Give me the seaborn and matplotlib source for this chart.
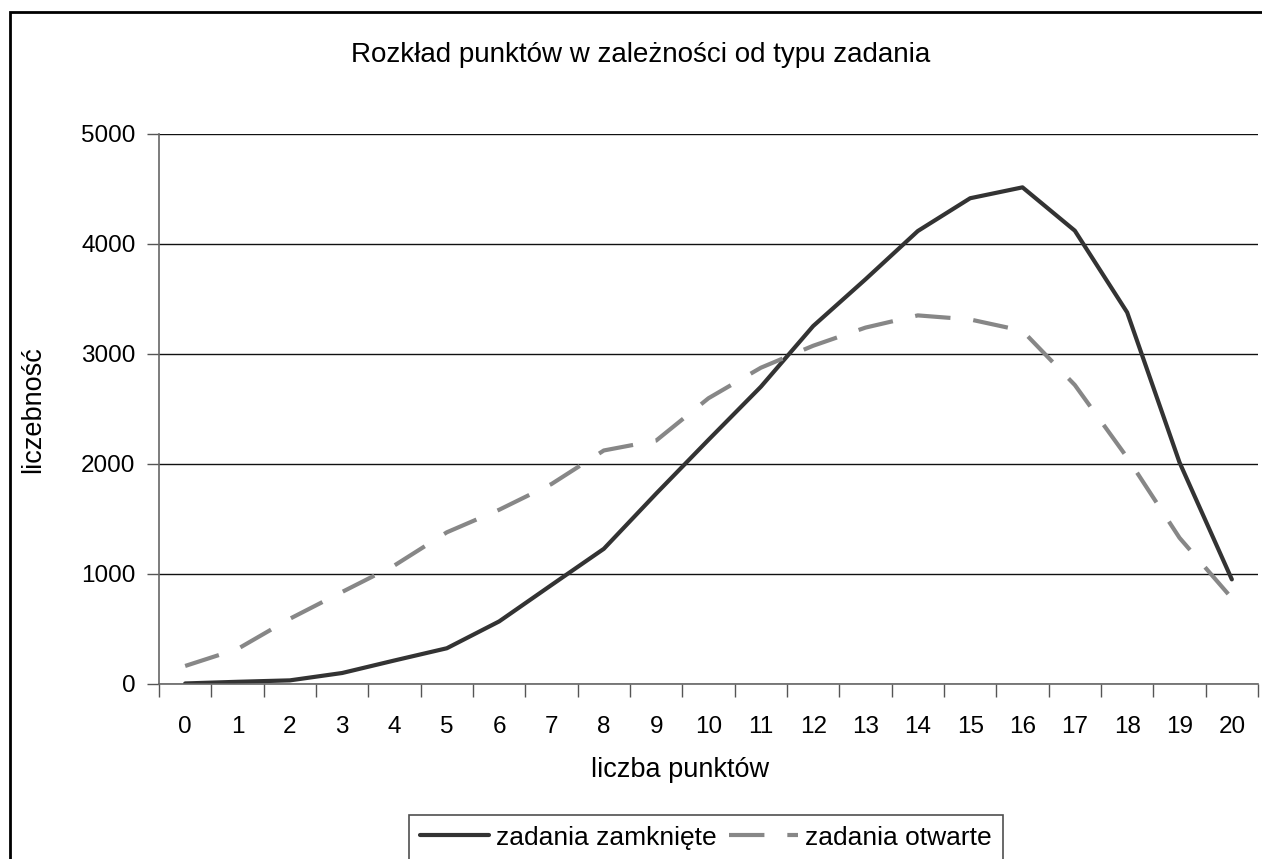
import matplotlib
matplotlib.use("Agg")
import matplotlib.pyplot as plt
import seaborn as sns
import pandas as pd
from matplotlib.patches import Rectangle
from matplotlib.lines import Line2D

points = list(range(21))
closed_tasks = [5, 20, 33, 100, 214, 325, 569, 900, 1229, 1731, 2220, 2702, 3254, 3679, 4118, 4416, 4515, 4121, 3378, 2015, 951]
open_tasks = [164, 318, 593, 837, 1078, 1379, 1584, 1818, 2123, 2213, 2598, 2875, 3075, 3240, 3351, 3314, 3211, 2718, 2059, 1329, 780]
series_names = ["zadania zamknięte", "zadania otwarte"]
title = "Rozkład punktów w zależności od typu zadania"
xlabel = "liczba punktów"
ylabel = "liczebność"
yticks = [0, 1000, 2000, 3000, 4000, 5000]

df = pd.concat([
    pd.DataFrame({"x": points, "y": closed_tasks, "series": series_names[0]}),
    pd.DataFrame({"x": points, "y": open_tasks, "series": series_names[1]}),
])

sns.set_theme(style="white")
plt.rcParams["font.family"] = ["Liberation Sans", "DejaVu Sans"]
plt.rcParams["text.color"] = "black"
plt.rcParams["axes.labelcolor"] = "black"
plt.rcParams["xtick.color"] = "black"
plt.rcParams["ytick.color"] = "black"

W, H = 1262, 859
fig = plt.figure(figsize=(W / 100, H / 100), dpi=100)
ax = fig.add_axes([159 / W, 1 - 684 / H, (1258 - 159) / W, (684 - 134) / H])

sns.lineplot(data=df, x="x", y="y", hue="series", style="series",
             palette={series_names[0]: "#333333", series_names[1]: "#878787"},
             dashes={series_names[0]: "", series_names[1]: (8.5, 5.5)},
             linewidth=3, ax=ax, legend=False)
for ln in ax.get_lines():
    ln.set_solid_capstyle("round")
    ln.set_dash_capstyle("butt")

ax.set_xlim(-0.5, 20.5)
ax.set_ylim(0, 5000)
ax.set_xticks(points)
ax.set_xticklabels([str(p) for p in points], fontsize=17.5)
ax.set_xticks([p - 0.5 for p in points] + [20.5], minor=True)
ax.tick_params(axis="x", which="major", length=0, pad=23, labelcolor="black")
ax.tick_params(axis="x", which="minor", length=9, width=1, color="#555555", direction="out", bottom=True)
ax.set_yticks(yticks)
ax.set_yticklabels([str(v) for v in yticks], fontsize=17.5)
ax.tick_params(axis="y", which="major", length=9, width=1, color="#555555", direction="out",
               left=True, pad=8, labelcolor="black")

ax.yaxis.grid(True, color="#111111", linewidth=1)
ax.xaxis.grid(False)
ax.set_axisbelow(True)
for s in ["top", "right"]:
    ax.spines[s].set_visible(False)
for s in ["left", "bottom"]:
    ax.spines[s].set_color("#666666")
    ax.spines[s].set_linewidth(1.2)

ax.set_xlabel(xlabel, fontsize=19.5, color="black")
ax.set_ylabel(ylabel, fontsize=19.5, color="black")
ax.xaxis.set_label_coords((680 - 159) / (1258 - 159), -(757 - 684) / (684 - 134))
ax.yaxis.set_label_coords(-(159 - 46) / (1258 - 159), (684 - 410) / (684 - 134))

fig.text(641 / W, 1 - 55 / H, title, ha="center", va="center", fontsize=20, color="black")

handles = [Line2D([], [], color="#333333", lw=3),
           Line2D([], [], color="#878787", lw=3, ls=(0, (8.5, 5.5)))]
leg = fig.legend(handles, series_names, loc="upper center",
                 bbox_to_anchor=(706 / W, 1 - 815 / H), ncol=2, fontsize=19,
                 frameon=True, fancybox=False, edgecolor="#222222",
                 handlelength=2.6, handletextpad=0.3, columnspacing=0.45,
                 borderpad=0.4, borderaxespad=0)
leg.get_frame().set_linewidth(1.2)
for t in leg.get_texts():
    t.set_color("black")

fig.patches.append(Rectangle((10 / W, -0.1), 1.2, 1.1 - 12 / H, transform=fig.transFigure,
                             fill=False, edgecolor="black", linewidth=2))

fig.savefig("out.png", dpi=100)
